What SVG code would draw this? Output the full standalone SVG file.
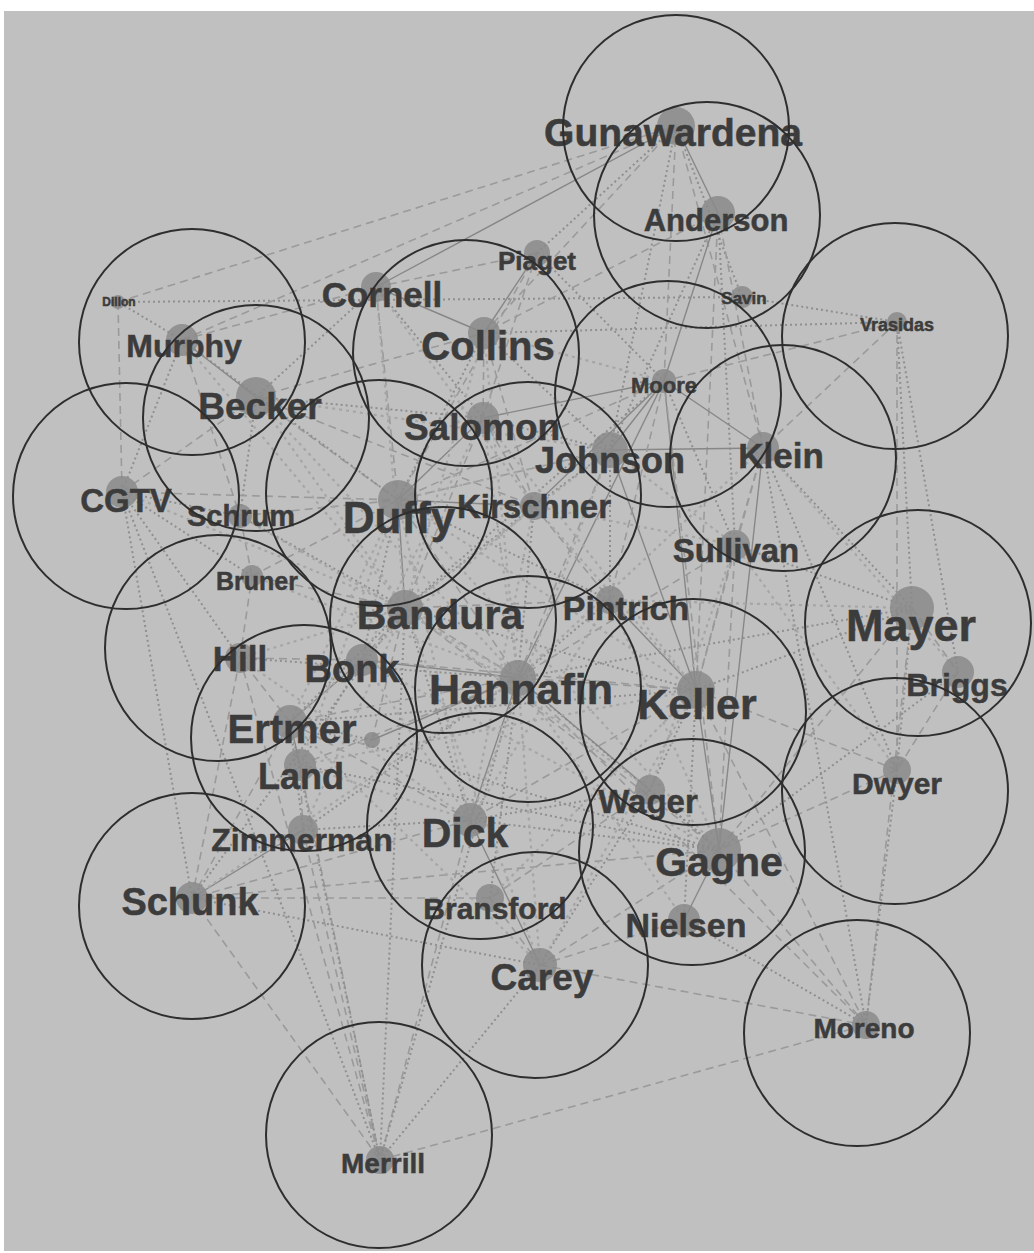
<svg xmlns="http://www.w3.org/2000/svg" width="1034" height="1253" viewBox="0 0 1034 1253">
<style>
.a{stroke:#9a9a9a;stroke-width:1.6;stroke-dasharray:8 5;fill:none}
.b{stroke:#8f8f8f;stroke-width:2;stroke-dasharray:2 3;fill:none}
.c{stroke:#878787;stroke-width:1.4;fill:none}
.d{stroke:#a6a6a6;stroke-width:2.2;stroke-dasharray:3 4;fill:none}
.n{fill:#8a8a8a;opacity:0.85}
.t{font-family:"Liberation Sans",Arial,sans-serif;font-weight:bold;fill:#3c3c3c;stroke:#3c3c3c;stroke-width:0.5;text-anchor:middle}
.r{fill:none;stroke:#2e2e2e;stroke-width:2}
</style>
<rect x="0" y="0" width="1034" height="1253" fill="#ffffff"/>
<rect x="4" y="11" width="1030" height="1240" fill="#c0c0c0"/>
<g id="connectors">
<line class="a" x1="118" y1="302" x2="676" y2="126"/>
<line class="b" x1="118" y1="302" x2="742" y2="297"/>
<line class="a" x1="182" y1="340" x2="676" y2="126"/>
<line class="c" x1="376" y1="287" x2="676" y2="126"/>
<line class="a" x1="484" y1="333" x2="676" y2="126"/>
<line class="b" x1="537" y1="253" x2="676" y2="126"/>
<line class="c" x1="676" y1="126" x2="718" y2="213"/>
<line class="a" x1="676" y1="126" x2="664" y2="381"/>
<line class="b" x1="676" y1="126" x2="610" y2="450"/>
<line class="a" x1="676" y1="126" x2="763" y2="448"/>
<line class="b" x1="676" y1="126" x2="742" y2="297"/>
<line class="c" x1="718" y1="213" x2="664" y2="381"/>
<line class="a" x1="718" y1="213" x2="763" y2="448"/>
<line class="b" x1="718" y1="213" x2="735" y2="545"/>
<line class="a" x1="718" y1="213" x2="696" y2="690"/>
<line class="b" x1="718" y1="213" x2="610" y2="450"/>
<line class="a" x1="718" y1="213" x2="484" y2="333"/>
<line class="b" x1="742" y1="297" x2="897" y2="322"/>
<line class="a" x1="897" y1="322" x2="664" y2="381"/>
<line class="b" x1="897" y1="322" x2="912" y2="608"/>
<line class="a" x1="897" y1="322" x2="763" y2="448"/>
<line class="b" x1="897" y1="322" x2="958" y2="672"/>
<line class="a" x1="897" y1="322" x2="897" y2="770"/>
<line class="b" x1="897" y1="322" x2="484" y2="333"/>
<line class="c" x1="664" y1="381" x2="610" y2="450"/>
<line class="c" x1="664" y1="381" x2="534" y2="506"/>
<line class="c" x1="664" y1="381" x2="483" y2="418"/>
<line class="a" x1="664" y1="381" x2="398" y2="500"/>
<line class="c" x1="664" y1="381" x2="518" y2="678"/>
<line class="c" x1="664" y1="381" x2="696" y2="690"/>
<line class="a" x1="664" y1="381" x2="719" y2="850"/>
<line class="b" x1="664" y1="381" x2="735" y2="545"/>
<line class="c" x1="664" y1="381" x2="763" y2="448"/>
<line class="c" x1="610" y1="450" x2="763" y2="448"/>
<line class="a" x1="610" y1="450" x2="398" y2="500"/>
<line class="b" x1="610" y1="450" x2="534" y2="506"/>
<line class="a" x1="610" y1="450" x2="518" y2="678"/>
<line class="c" x1="610" y1="450" x2="696" y2="690"/>
<line class="b" x1="610" y1="450" x2="610" y2="600"/>
<line class="a" x1="763" y1="448" x2="735" y2="545"/>
<line class="b" x1="763" y1="448" x2="912" y2="608"/>
<line class="a" x1="763" y1="448" x2="696" y2="690"/>
<line class="c" x1="763" y1="448" x2="719" y2="850"/>
<line class="b" x1="763" y1="448" x2="897" y2="770"/>
<line class="a" x1="735" y1="545" x2="696" y2="690"/>
<line class="b" x1="735" y1="545" x2="912" y2="608"/>
<line class="a" x1="735" y1="545" x2="719" y2="850"/>
<line class="b" x1="610" y1="600" x2="518" y2="678"/>
<line class="a" x1="610" y1="600" x2="405" y2="608"/>
<line class="c" x1="610" y1="600" x2="696" y2="690"/>
<line class="b" x1="610" y1="600" x2="398" y2="500"/>
<line class="a" x1="912" y1="608" x2="958" y2="672"/>
<line class="b" x1="912" y1="608" x2="696" y2="690"/>
<line class="a" x1="912" y1="608" x2="719" y2="850"/>
<line class="b" x1="912" y1="608" x2="897" y2="770"/>
<line class="a" x1="912" y1="608" x2="866" y2="1025"/>
<line class="b" x1="912" y1="608" x2="518" y2="678"/>
<line class="a" x1="958" y1="672" x2="897" y2="770"/>
<line class="b" x1="958" y1="672" x2="719" y2="850"/>
<line class="a" x1="897" y1="770" x2="719" y2="850"/>
<line class="b" x1="897" y1="770" x2="866" y2="1025"/>
<line class="a" x1="897" y1="770" x2="696" y2="690"/>
<line class="c" x1="696" y1="690" x2="719" y2="850"/>
<line class="a" x1="696" y1="690" x2="518" y2="678"/>
<line class="b" x1="696" y1="690" x2="650" y2="790"/>
<line class="a" x1="696" y1="690" x2="470" y2="820"/>
<line class="b" x1="696" y1="690" x2="684" y2="920"/>
<line class="a" x1="696" y1="690" x2="866" y2="1025"/>
<line class="b" x1="719" y1="850" x2="470" y2="820"/>
<line class="a" x1="719" y1="850" x2="540" y2="965"/>
<line class="c" x1="719" y1="850" x2="684" y2="920"/>
<line class="b" x1="719" y1="850" x2="650" y2="790"/>
<line class="a" x1="719" y1="850" x2="866" y2="1025"/>
<line class="b" x1="719" y1="850" x2="518" y2="678"/>
<line class="a" x1="719" y1="850" x2="405" y2="608"/>
<line class="b" x1="719" y1="850" x2="290" y2="722"/>
<line class="a" x1="719" y1="850" x2="192" y2="898"/>
<line class="c" x1="650" y1="790" x2="518" y2="678"/>
<line class="b" x1="650" y1="790" x2="470" y2="820"/>
<line class="a" x1="684" y1="920" x2="540" y2="965"/>
<line class="b" x1="684" y1="920" x2="866" y2="1025"/>
<line class="c" x1="540" y1="965" x2="470" y2="820"/>
<line class="a" x1="540" y1="965" x2="490" y2="898"/>
<line class="b" x1="540" y1="965" x2="380" y2="1160"/>
<line class="a" x1="540" y1="965" x2="866" y2="1025"/>
<line class="b" x1="540" y1="965" x2="192" y2="898"/>
<line class="a" x1="470" y1="820" x2="380" y2="1160"/>
<line class="c" x1="470" y1="820" x2="518" y2="678"/>
<line class="b" x1="470" y1="820" x2="405" y2="608"/>
<line class="a" x1="470" y1="820" x2="290" y2="722"/>
<line class="b" x1="470" y1="820" x2="303" y2="830"/>
<line class="a" x1="470" y1="820" x2="192" y2="898"/>
<line class="b" x1="490" y1="898" x2="518" y2="678"/>
<line class="a" x1="490" y1="898" x2="192" y2="898"/>
<line class="c" x1="303" y1="830" x2="192" y2="898"/>
<line class="a" x1="303" y1="830" x2="380" y2="1160"/>
<line class="b" x1="303" y1="830" x2="290" y2="722"/>
<line class="a" x1="303" y1="830" x2="300" y2="765"/>
<line class="b" x1="303" y1="830" x2="518" y2="678"/>
<line class="a" x1="192" y1="898" x2="380" y2="1160"/>
<line class="b" x1="192" y1="898" x2="122" y2="492"/>
<line class="a" x1="192" y1="898" x2="240" y2="658"/>
<line class="b" x1="192" y1="898" x2="405" y2="608"/>
<line class="a" x1="192" y1="898" x2="290" y2="722"/>
<line class="c" x1="300" y1="765" x2="290" y2="722"/>
<line class="a" x1="300" y1="765" x2="518" y2="678"/>
<line class="b" x1="300" y1="765" x2="362" y2="660"/>
<line class="a" x1="300" y1="765" x2="380" y2="1160"/>
<line class="b" x1="300" y1="765" x2="719" y2="850"/>
<line class="c" x1="290" y1="722" x2="362" y2="660"/>
<line class="a" x1="290" y1="722" x2="518" y2="678"/>
<line class="b" x1="290" y1="722" x2="405" y2="608"/>
<line class="a" x1="290" y1="722" x2="240" y2="658"/>
<line class="b" x1="290" y1="722" x2="696" y2="690"/>
<line class="a" x1="240" y1="658" x2="362" y2="660"/>
<line class="b" x1="240" y1="658" x2="122" y2="492"/>
<line class="a" x1="240" y1="658" x2="252" y2="576"/>
<line class="b" x1="240" y1="658" x2="518" y2="678"/>
<line class="c" x1="362" y1="660" x2="518" y2="678"/>
<line class="a" x1="362" y1="660" x2="405" y2="608"/>
<line class="b" x1="362" y1="660" x2="398" y2="500"/>
<line class="a" x1="362" y1="660" x2="696" y2="690"/>
<line class="c" x1="405" y1="608" x2="398" y2="500"/>
<line class="a" x1="405" y1="608" x2="518" y2="678"/>
<line class="b" x1="405" y1="608" x2="534" y2="506"/>
<line class="a" x1="405" y1="608" x2="483" y2="418"/>
<line class="b" x1="405" y1="608" x2="240" y2="516"/>
<line class="a" x1="405" y1="608" x2="252" y2="576"/>
<line class="b" x1="405" y1="608" x2="696" y2="690"/>
<line class="a" x1="252" y1="576" x2="398" y2="500"/>
<line class="b" x1="252" y1="576" x2="122" y2="492"/>
<line class="a" x1="252" y1="576" x2="240" y2="516"/>
<line class="b" x1="240" y1="516" x2="122" y2="492"/>
<line class="a" x1="240" y1="516" x2="398" y2="500"/>
<line class="b" x1="240" y1="516" x2="256" y2="397"/>
<line class="a" x1="122" y1="492" x2="256" y2="397"/>
<line class="b" x1="122" y1="492" x2="182" y2="340"/>
<line class="a" x1="122" y1="492" x2="398" y2="500"/>
<line class="b" x1="122" y1="492" x2="380" y2="1160"/>
<line class="a" x1="122" y1="492" x2="118" y2="302"/>
<line class="c" x1="256" y1="397" x2="182" y2="340"/>
<line class="a" x1="256" y1="397" x2="398" y2="500"/>
<line class="b" x1="256" y1="397" x2="483" y2="418"/>
<line class="a" x1="256" y1="397" x2="484" y2="333"/>
<line class="b" x1="256" y1="397" x2="376" y2="287"/>
<line class="a" x1="256" y1="397" x2="534" y2="506"/>
<line class="b" x1="182" y1="340" x2="118" y2="302"/>
<line class="a" x1="182" y1="340" x2="376" y2="287"/>
<line class="b" x1="182" y1="340" x2="398" y2="500"/>
<line class="a" x1="182" y1="340" x2="240" y2="516"/>
<line class="c" x1="376" y1="287" x2="484" y2="333"/>
<line class="a" x1="376" y1="287" x2="398" y2="500"/>
<line class="b" x1="376" y1="287" x2="483" y2="418"/>
<line class="a" x1="376" y1="287" x2="537" y2="253"/>
<line class="c" x1="484" y1="333" x2="537" y2="253"/>
<line class="a" x1="484" y1="333" x2="483" y2="418"/>
<line class="b" x1="484" y1="333" x2="398" y2="500"/>
<line class="a" x1="484" y1="333" x2="534" y2="506"/>
<line class="b" x1="484" y1="333" x2="610" y2="450"/>
<line class="a" x1="537" y1="253" x2="483" y2="418"/>
<line class="b" x1="537" y1="253" x2="664" y2="381"/>
<line class="a" x1="537" y1="253" x2="398" y2="500"/>
<line class="c" x1="483" y1="418" x2="398" y2="500"/>
<line class="a" x1="483" y1="418" x2="534" y2="506"/>
<line class="b" x1="483" y1="418" x2="610" y2="450"/>
<line class="c" x1="398" y1="500" x2="534" y2="506"/>
<line class="a" x1="398" y1="500" x2="518" y2="678"/>
<line class="b" x1="534" y1="506" x2="518" y2="678"/>
<line class="a" x1="534" y1="506" x2="610" y2="600"/>
<line class="b" x1="518" y1="678" x2="380" y2="1160"/>
<line class="a" x1="518" y1="678" x2="866" y2="1025"/>
<line class="b" x1="405" y1="608" x2="380" y2="1160"/>
<line class="a" x1="735" y1="545" x2="518" y2="678"/>
<line class="b" x1="650" y1="790" x2="540" y2="965"/>
<line class="a" x1="650" y1="790" x2="490" y2="898"/>
<line class="a" x1="380" y1="1160" x2="866" y2="1025"/>
<line class="b" x1="380" y1="1160" x2="290" y2="722"/>
<line class="a" x1="240" y1="658" x2="380" y2="1160"/>
<line class="b" x1="664" y1="381" x2="405" y2="608"/>
<line class="a" x1="664" y1="381" x2="610" y2="600"/>
<line class="b" x1="866" y1="1025" x2="763" y2="448"/>
<line class="c" x1="372" y1="740" x2="518" y2="678"/>
<line class="b" x1="372" y1="740" x2="290" y2="722"/>
<line class="a" x1="372" y1="740" x2="405" y2="608"/>
<line class="d" x1="398" y1="500" x2="696" y2="690"/>
<line class="d" x1="398" y1="500" x2="470" y2="820"/>
<line class="d" x1="398" y1="500" x2="719" y2="850"/>
<line class="d" x1="398" y1="500" x2="610" y2="450"/>
<line class="d" x1="398" y1="500" x2="290" y2="722"/>
<line class="d" x1="398" y1="500" x2="300" y2="765"/>
<line class="d" x1="483" y1="418" x2="518" y2="678"/>
<line class="d" x1="483" y1="418" x2="696" y2="690"/>
<line class="d" x1="483" y1="418" x2="362" y2="660"/>
<line class="d" x1="534" y1="506" x2="696" y2="690"/>
<line class="d" x1="534" y1="506" x2="470" y2="820"/>
<line class="d" x1="534" y1="506" x2="290" y2="722"/>
<line class="d" x1="534" y1="506" x2="735" y2="545"/>
<line class="d" x1="610" y1="450" x2="405" y2="608"/>
<line class="d" x1="610" y1="450" x2="470" y2="820"/>
<line class="d" x1="610" y1="450" x2="735" y2="545"/>
<line class="d" x1="256" y1="397" x2="405" y2="608"/>
<line class="d" x1="256" y1="397" x2="518" y2="678"/>
<line class="d" x1="256" y1="397" x2="610" y2="450"/>
<line class="d" x1="484" y1="333" x2="405" y2="608"/>
<line class="d" x1="484" y1="333" x2="518" y2="678"/>
<line class="d" x1="484" y1="333" x2="664" y2="381"/>
<line class="d" x1="376" y1="287" x2="405" y2="608"/>
<line class="d" x1="376" y1="287" x2="534" y2="506"/>
<line class="d" x1="518" y1="678" x2="684" y2="920"/>
<line class="d" x1="518" y1="678" x2="540" y2="965"/>
<line class="d" x1="518" y1="678" x2="192" y2="898"/>
<line class="d" x1="405" y1="608" x2="540" y2="965"/>
<line class="d" x1="405" y1="608" x2="650" y2="790"/>
<line class="d" x1="405" y1="608" x2="303" y2="830"/>
<line class="d" x1="362" y1="660" x2="470" y2="820"/>
<line class="d" x1="362" y1="660" x2="719" y2="850"/>
<line class="d" x1="240" y1="658" x2="470" y2="820"/>
<line class="d" x1="240" y1="658" x2="405" y2="608"/>
<line class="d" x1="290" y1="722" x2="540" y2="965"/>
<line class="d" x1="300" y1="765" x2="470" y2="820"/>
<line class="d" x1="300" y1="765" x2="696" y2="690"/>
<line class="d" x1="696" y1="690" x2="540" y2="965"/>
<line class="d" x1="696" y1="690" x2="490" y2="898"/>
<line class="d" x1="735" y1="545" x2="650" y2="790"/>
<line class="d" x1="735" y1="545" x2="897" y2="770"/>
<line class="d" x1="763" y1="448" x2="518" y2="678"/>
<line class="d" x1="763" y1="448" x2="958" y2="672"/>
<line class="d" x1="610" y1="600" x2="719" y2="850"/>
<line class="d" x1="610" y1="600" x2="470" y2="820"/>
<line class="d" x1="610" y1="600" x2="912" y2="608"/>
<line class="d" x1="122" y1="492" x2="405" y2="608"/>
<line class="d" x1="182" y1="340" x2="405" y2="608"/>
<line class="d" x1="252" y1="576" x2="518" y2="678"/>
<line class="d" x1="240" y1="516" x2="518" y2="678"/>
</g>
<g id="n-gunawardena"><circle class="n" cx="676" cy="126" r="19"/><text class="t" x="673" y="146" font-size="39">Gunawardena</text></g>
<g id="n-anderson"><circle class="n" cx="718" cy="213" r="17"/><text class="t" x="716" y="231" font-size="31">Anderson</text></g>
<g id="n-piaget"><circle class="n" cx="537" cy="253" r="13"/><text class="t" x="537" y="270" font-size="26">Piaget</text></g>
<g id="n-cornell"><circle class="n" cx="376" cy="287" r="15"/><text class="t" x="382" y="307" font-size="35">Cornell</text></g>
<g id="n-collins"><circle class="n" cx="484" cy="333" r="16"/><text class="t" x="488" y="360" font-size="40">Collins</text></g>
<g id="n-savin"><circle class="n" cx="742" cy="297" r="11"/><text class="t" x="744" y="304" font-size="17">Savin</text></g>
<g id="n-vrasidas"><circle class="n" cx="897" cy="322" r="10"/><text class="t" x="897" y="331" font-size="18">Vrasidas</text></g>
<g id="n-dillon"><circle class="n" cx="118" cy="302" r="7"/><text class="t" x="119" y="306" font-size="12">Dillon</text></g>
<g id="n-murphy"><circle class="n" cx="182" cy="340" r="16"/><text class="t" x="184" y="357" font-size="32">Murphy</text></g>
<g id="n-becker"><circle class="n" cx="256" cy="397" r="20"/><text class="t" x="260" y="419" font-size="37">Becker</text></g>
<g id="n-moore"><circle class="n" cx="664" cy="381" r="12"/><text class="t" x="664" y="393" font-size="22">Moore</text></g>
<g id="n-salomon"><circle class="n" cx="483" cy="418" r="16"/><text class="t" x="482" y="440" font-size="37">Salomon</text></g>
<g id="n-johnson"><circle class="n" cx="610" cy="450" r="18"/><text class="t" x="610" y="473" font-size="36">Johnson</text></g>
<g id="n-klein"><circle class="n" cx="763" cy="448" r="16"/><text class="t" x="781" y="468" font-size="35">Klein</text></g>
<g id="n-cgtv"><circle class="n" cx="122" cy="492" r="16"/><text class="t" x="126" y="512" font-size="33">CGTV</text></g>
<g id="n-schrum"><circle class="n" cx="240" cy="516" r="12"/><text class="t" x="241" y="526" font-size="29">Schrum</text></g>
<g id="n-duffy"><circle class="n" cx="398" cy="500" r="20"/><text class="t" x="399" y="533" font-size="44">Duffy</text></g>
<g id="n-kirschner"><circle class="n" cx="534" cy="506" r="14"/><text class="t" x="534" y="518" font-size="33">Kirschner</text></g>
<g id="n-sullivan"><circle class="n" cx="735" cy="545" r="15"/><text class="t" x="736" y="562" font-size="33">Sullivan</text></g>
<g id="n-bruner"><circle class="n" cx="252" cy="576" r="11"/><text class="t" x="257" y="590" font-size="25">Bruner</text></g>
<g id="n-bandura"><circle class="n" cx="405" cy="608" r="18"/><text class="t" x="440" y="629" font-size="41">Bandura</text></g>
<g id="n-pintrich"><circle class="n" cx="610" cy="600" r="14"/><text class="t" x="626" y="620" font-size="34">Pintrich</text></g>
<g id="n-mayer"><circle class="n" cx="912" cy="608" r="22"/><text class="t" x="911" y="641" font-size="45">Mayer</text></g>
<g id="n-briggs"><circle class="n" cx="958" cy="672" r="16"/><text class="t" x="957" y="696" font-size="32">Briggs</text></g>
<g id="n-hill"><circle class="n" cx="240" cy="658" r="15"/><text class="t" x="240" y="671" font-size="35">Hill</text></g>
<g id="n-bonk"><circle class="n" cx="362" cy="660" r="16"/><text class="t" x="352" y="682" font-size="38">Bonk</text></g>
<g id="n-hannafin"><circle class="n" cx="518" cy="678" r="18"/><text class="t" x="521" y="704" font-size="43">Hannafin</text></g>
<g id="n-keller"><circle class="n" cx="696" cy="690" r="19"/><text class="t" x="697" y="719" font-size="43">Keller</text></g>
<g id="n-paris"><circle class="n" cx="372" cy="740" r="8"/></g>
<g id="n-ertmer"><circle class="n" cx="290" cy="722" r="17"/><text class="t" x="292" y="743" font-size="40">Ertmer</text></g>
<g id="n-land"><circle class="n" cx="300" cy="765" r="16"/><text class="t" x="301" y="789" font-size="36">Land</text></g>
<g id="n-dwyer"><circle class="n" cx="897" cy="770" r="14"/><text class="t" x="897" y="794" font-size="30">Dwyer</text></g>
<g id="n-wager"><circle class="n" cx="650" cy="790" r="15"/><text class="t" x="648" y="813" font-size="33">Wager</text></g>
<g id="n-dick"><circle class="n" cx="470" cy="820" r="17"/><text class="t" x="465" y="847" font-size="41">Dick</text></g>
<g id="n-zimmerman"><circle class="n" cx="303" cy="830" r="15"/><text class="t" x="302" y="851" font-size="32">Zimmerman</text></g>
<g id="n-gagne"><circle class="n" cx="719" cy="850" r="22"/><text class="t" x="719" y="876" font-size="41">Gagne</text></g>
<g id="n-schunk"><circle class="n" cx="192" cy="898" r="16"/><text class="t" x="190" y="915" font-size="38">Schunk</text></g>
<g id="n-bransford"><circle class="n" cx="490" cy="898" r="14"/><text class="t" x="495" y="919" font-size="30">Bransford</text></g>
<g id="n-nielsen"><circle class="n" cx="684" cy="920" r="16"/><text class="t" x="686" y="937" font-size="34">Nielsen</text></g>
<g id="n-carey"><circle class="n" cx="540" cy="965" r="17"/><text class="t" x="542" y="990" font-size="37">Carey</text></g>
<g id="n-moreno"><circle class="n" cx="866" cy="1025" r="14"/><text class="t" x="864" y="1038" font-size="28">Moreno</text></g>
<g id="n-merrill"><circle class="n" cx="380" cy="1160" r="14"/><text class="t" x="383" y="1173" font-size="28">Merrill</text></g>
<g id="rings">
<circle class="r" cx="676" cy="128" r="113"/>
<circle class="r" cx="707" cy="215" r="113"/>
<circle class="r" cx="192" cy="342" r="113"/>
<circle class="r" cx="466" cy="353" r="113"/>
<circle class="r" cx="256" cy="418" r="113"/>
<circle class="r" cx="668" cy="394" r="113"/>
<circle class="r" cx="895" cy="336" r="113"/>
<circle class="r" cx="126" cy="496" r="113"/>
<circle class="r" cx="379" cy="493" r="113"/>
<circle class="r" cx="528" cy="495" r="113"/>
<circle class="r" cx="783" cy="458" r="113"/>
<circle class="r" cx="218" cy="648" r="113"/>
<circle class="r" cx="443" cy="620" r="113"/>
<circle class="r" cx="918" cy="623" r="113"/>
<circle class="r" cx="528" cy="689" r="113"/>
<circle class="r" cx="693" cy="712" r="113"/>
<circle class="r" cx="304" cy="738" r="113"/>
<circle class="r" cx="895" cy="791" r="113"/>
<circle class="r" cx="480" cy="826" r="113"/>
<circle class="r" cx="692" cy="852" r="113"/>
<circle class="r" cx="192" cy="906" r="113"/>
<circle class="r" cx="535" cy="965" r="113"/>
<circle class="r" cx="857" cy="1033" r="113"/>
<circle class="r" cx="379" cy="1135" r="113"/>
</g>
</svg>
